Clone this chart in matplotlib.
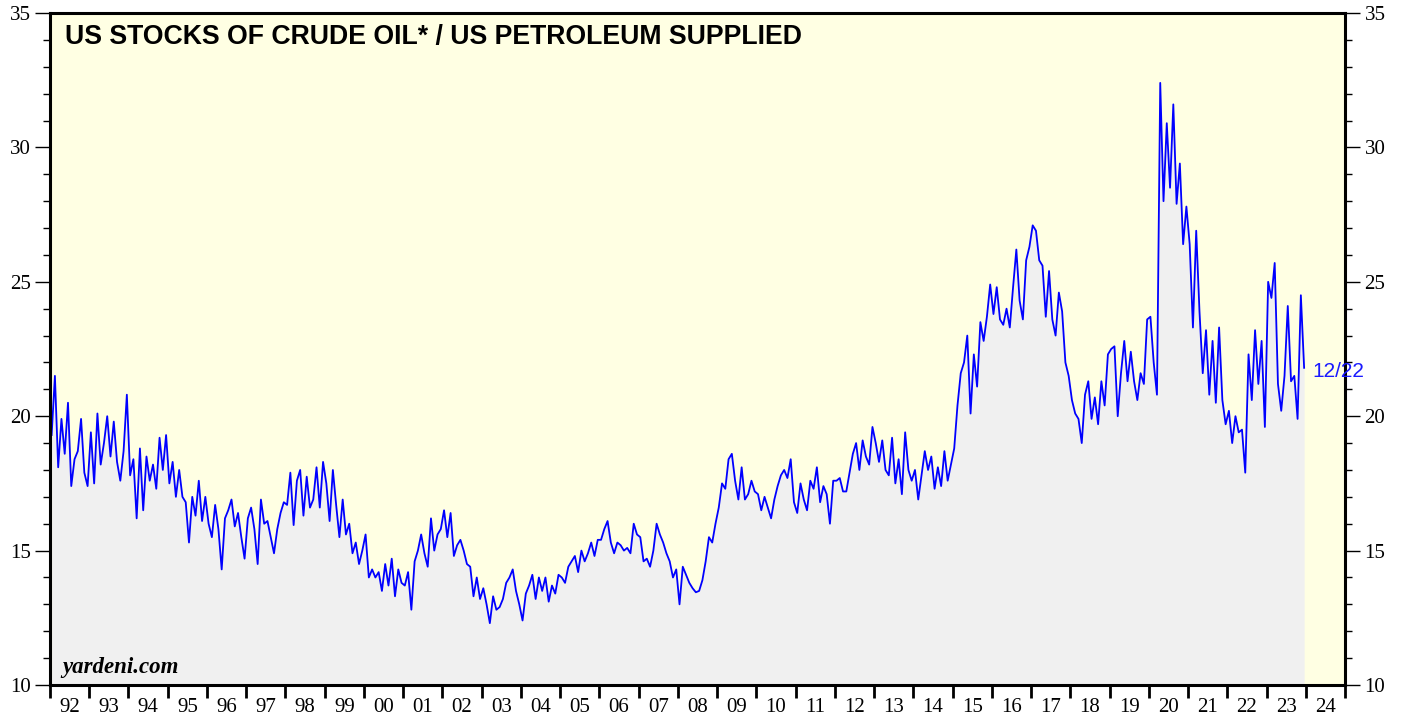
import numpy as np
import matplotlib
matplotlib.use("Agg")
import matplotlib.pyplot as plt
from matplotlib.ticker import MultipleLocator, FixedLocator, NullFormatter, FixedFormatter

# ---- data: monthly readings of the ratio (days of supply), Jan 1992 .. Dec 2023 ----
start_year = 1992
ratio_1992_1999 = [
    19.3, 21.5, 18.1, 19.9, 18.6, 20.5, 17.4, 18.4, 18.7, 19.9, 17.9, 17.4,
    19.4, 17.5, 20.1, 18.2, 19.0, 20.0, 18.5, 19.8, 18.3, 17.6, 18.7, 20.8,
    17.8, 18.4, 16.2, 18.8, 16.5, 18.5, 17.6, 18.2, 17.3, 19.2, 18.0, 19.3,
    17.5, 18.3, 17.0, 18.0, 17.0, 16.8, 15.3, 17.0, 16.3, 17.6, 16.1, 17.0,
    16.0, 15.5, 16.7, 15.8, 14.3, 16.2, 16.5, 16.9, 15.9, 16.4, 15.5, 14.7,
    16.2, 16.6, 15.8, 14.5, 16.9, 16.0, 16.1, 15.5, 14.9, 15.8, 16.4, 16.8,
    16.7, 17.9, 15.95, 17.6, 18.0, 16.3, 17.75, 16.6, 16.9, 18.1, 16.6, 18.3,
    17.5, 16.1, 18.0, 16.7, 15.5, 16.9, 15.6, 16.0, 14.9, 15.3, 14.5, 15.0,
]
ratio_2000_2007 = [
    15.6, 14.0, 14.3, 14.0, 14.2, 13.5, 14.5, 13.7, 14.7, 13.3, 14.3, 13.8,
    13.7, 14.2, 12.8, 14.6, 15.0, 15.6, 14.9, 14.4, 16.2, 15.0, 15.6, 15.8,
    16.5, 15.5, 16.4, 14.8, 15.2, 15.4, 15.0, 14.5, 14.4, 13.3, 14.0, 13.2,
    13.6, 13.0, 12.3, 13.3, 12.8, 12.9, 13.2, 13.8, 14.0, 14.3, 13.5, 13.0,
    12.4, 13.4, 13.7, 14.1, 13.2, 14.0, 13.5, 14.0, 13.1, 13.7, 13.4, 14.1,
    14.0, 13.8, 14.4, 14.6, 14.8, 14.2, 15.0, 14.6, 14.9, 15.3, 14.8, 15.4,
    15.4, 15.8, 16.1, 15.3, 14.9, 15.3, 15.2, 15.0, 15.1, 14.9, 16.0, 15.6,
    15.5, 14.6, 14.7, 14.4, 15.0, 16.0, 15.6, 15.3, 14.9, 14.6, 14.0, 14.3,
]
ratio_2008_2015 = [
    13.0, 14.4, 14.1, 13.8, 13.6, 13.45, 13.5, 13.9, 14.6, 15.5, 15.3, 16.0,
    16.6, 17.5, 17.3, 18.4, 18.6, 17.6, 16.9, 18.1, 16.9, 17.1, 17.6, 17.2,
    17.1, 16.5, 17.0, 16.6, 16.2, 16.9, 17.4, 17.8, 18.0, 17.7, 18.4, 16.8,
    16.4, 17.5, 16.9, 16.5, 17.6, 17.3, 18.1, 16.8, 17.4, 17.1, 16.0, 17.6,
    17.6, 17.7, 17.2, 17.2, 17.9, 18.6, 19.0, 18.0, 19.1, 18.5, 18.2, 19.6,
    19.0, 18.3, 19.1, 18.0, 17.8, 19.2, 17.5, 18.4, 17.1, 19.4, 18.0, 17.6,
    18.0, 16.9, 17.8, 18.7, 18.0, 18.5, 17.3, 18.1, 17.4, 18.7, 17.6, 18.2,
    18.8, 20.4, 21.6, 22.0, 23.0, 20.1, 22.3, 21.1, 23.5, 22.8, 23.7, 24.9,
]
ratio_2016_2023 = [
    23.8, 24.8, 23.6, 23.4, 24.0, 23.3, 24.8, 26.2, 24.3, 23.6, 25.8, 26.3,
    27.1, 26.9, 25.8, 25.6, 23.7, 25.4, 23.6, 23.0, 24.6, 23.9, 22.0, 21.5,
    20.6, 20.1, 19.9, 19.0, 20.8, 21.3, 19.9, 20.7, 19.7, 21.3, 20.4, 22.3,
    22.5, 22.6, 20.0, 21.6, 22.8, 21.3, 22.4, 21.3, 20.6, 21.6, 21.2, 23.6,
    23.7, 22.0, 20.8, 32.4, 28.0, 30.9, 28.5, 31.6, 27.9, 29.4, 26.4, 27.8,
    26.4, 23.3, 26.9, 23.9, 21.6, 23.2, 20.8, 22.8, 20.5, 23.3, 20.6, 19.7,
    20.2, 19.0, 20.0, 19.4, 19.5, 17.9, 22.3, 20.6, 23.2, 21.2, 22.8, 19.6,
    25.0, 24.4, 25.7, 21.2, 20.2, 21.5, 24.1, 21.3, 21.5, 19.9, 24.5, 21.8,
]
year_labels = ["92", "93", "94", "95", "96", "97", "98", "99", "00", "01", "02",
               "03", "04", "05", "06", "07", "08", "09", "10", "11", "12", "13",
               "14", "15", "16", "17", "18", "19", "20", "21", "22", "23", "24"]
title_text = "US STOCKS OF CRUDE OIL* / US PETROLEUM SUPPLIED"
last_label = "12/22"

ratio = np.array(ratio_1992_1999 + ratio_2000_2007 + ratio_2008_2015 + ratio_2016_2023)
dates = start_year + (np.arange(len(ratio)) + 0.5) / 12.0

# ---- figure ----
W, H = 1406, 717
fig = plt.figure(figsize=(W / 100, H / 100), dpi=100)
ax = fig.add_axes([50 / W, (H - 685) / H, 1295 / W, 672 / H])
ax.set_facecolor("#FFFFE3")

ax.fill_between(dates, ratio, 10, color="#F0F0F0", lw=0, zorder=1)
ax.plot(dates, ratio, color="#0000FF", lw=1.3, zorder=2)

ax.set_xlim(start_year, start_year + len(year_labels))
ax.set_ylim(10, 35)

for s in ax.spines.values():
    s.set_linewidth(2.2)
    s.set_color("black")
    s.set_zorder(5)

serif = "Liberation Serif"
# y axis
ax.yaxis.set_major_locator(MultipleLocator(5))
ax.yaxis.set_minor_locator(MultipleLocator(1))
ax.tick_params(axis="y", which="both", direction="out", left=True, right=True,
               labelleft=True, labelright=True)
ax.tick_params(axis="y", which="major", length=11, width=1.0, pad=3, labelsize=15)
ax.tick_params(axis="y", which="minor", length=5, width=1.0)
# x axis
years = np.arange(start_year, start_year + len(year_labels) + 1)
ax.xaxis.set_major_locator(FixedLocator(years))
ax.xaxis.set_major_formatter(NullFormatter())
ax.xaxis.set_minor_locator(FixedLocator(years[:-1] + 0.5))
ax.xaxis.set_minor_formatter(FixedFormatter(year_labels))
ax.tick_params(axis="x", which="major", direction="out", length=9, width=2.0)
ax.tick_params(axis="x", which="minor", length=0, pad=9, labelsize=15)
for lab in ax.get_xticklabels(minor=True) + ax.get_yticklabels():
    lab.set_fontfamily(serif)
for lab in ax.yaxis.get_ticklabels(which="both"):
    lab.set_fontfamily(serif)

ax.text(0.0116, 0.984, title_text, transform=ax.transAxes, ha="left", va="top",
        fontsize=19.2, fontweight="bold", fontfamily="Liberation Sans", zorder=6)
ax.text(0.0093, 0.018, "yardeni.com", transform=ax.transAxes, ha="left",
        va="baseline", fontsize=16.5, fontweight="bold", fontstyle="italic",
        fontfamily=serif, zorder=6)
ax.annotate(last_label, xy=(dates[-1], ratio[-1]), xytext=(6, -3),
            textcoords="offset points", ha="left", va="center", fontsize=15,
            color="#1a1aff", fontfamily="Liberation Sans", zorder=6)

fig.savefig("out.png", dpi=100)
